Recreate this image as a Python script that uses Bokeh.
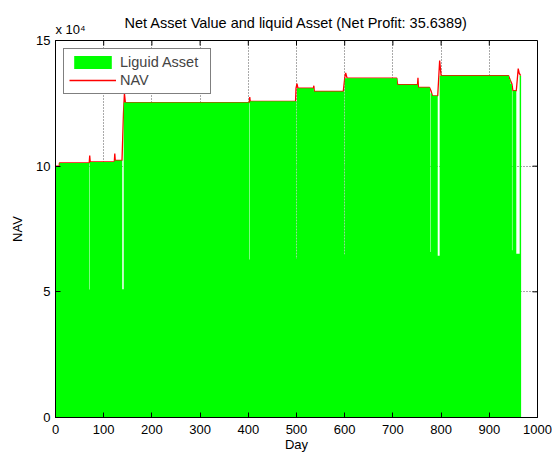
from bokeh.plotting import figure
from bokeh.models import (FixedTicker, Legend, LegendItem, ColumnDataSource, Range1d, Title)
from bokeh.embed import file_html
from bokeh.resources import INLINE

# ---- data (values in currency units) ----
nav_day = [0, 8, 8, 70, 71, 72, 122, 123, 124, 138, 141, 143, 145, 402, 403, 404,
           498, 499, 501, 503, 535, 536, 537, 597, 600, 602, 605, 708, 710, 751,
           752, 753, 776, 779, 782, 793, 797, 800, 940, 943, 947, 949, 956, 960,
           962, 965]
nav_value = [100000, 100000, 101300, 101300, 104200, 101700, 101700, 105000, 102300,
             102300, 121000, 129000, 125300, 125300, 127500, 125800, 125800, 131000,
             132800, 131000, 131000, 132000, 129700, 129700, 135000, 137100, 135000,
             135000, 132400, 132400, 135200, 131300, 131300, 130000, 128000, 128000,
             142000, 136000, 136000, 134500, 132700, 130000, 130000, 138800, 137000,
             136000]

liquid_day = [0, 8, 70, 71, 122, 138.5, 141.5, 402, 403, 500, 501, 536, 599, 600,
              709, 752, 777, 778, 781, 793, 797, 941, 944, 947, 948, 956, 963, 966]
liquid_value = [100000, 101300, 50900, 101700, 102300, 51000, 125300, 62900, 125800,
                63200, 131000, 129700, 64900, 135000, 132400, 131300, 65800, 129000,
                128000, 64400, 136000, 134500, 132700, 66500, 130000, 65200, 136000,
                136000]

x_ticks = [0, 100, 200, 300, 400, 500, 600, 700, 800, 900, 1000]
y_ticks = [0, 50000, 100000, 150000]
y_tick_labels = ["0", "5", "10", "15"]

title_text = "Net Asset Value and liquid Asset (Net Profit: 35.6389)"
exponent_text = "x 10\u2074"
x_label = "Day"
y_label = "NAV"
legend_labels = ["Liguid Asset", "NAV"]

FONT = "Liberation Sans"
FS = "13px"
FS_BIG = "14.5px"
X0, X1, Y0, Y1 = 0, 1000, 0, 150000
FRAME_W, FRAME_H = 482, 377
TICK = 5  # px

p = figure(width=552, height=455, x_range=Range1d(X0, X1), y_range=Range1d(Y0, Y1),
           output_backend="svg", toolbar_location=None, title=None,
           min_border_left=55, min_border_right=15, min_border_top=40, min_border_bottom=38)
p.background_fill_color = "white"
p.border_fill_color = "white"
p.outline_line_color = "black"
p.outline_line_width = 1

# axes
xa = p.xaxis[0]
xa.ticker = FixedTicker(ticks=x_ticks)
xa.axis_label = x_label
xa.axis_label_standoff = 0
ya = p.yaxis[0]
ya.ticker = FixedTicker(ticks=y_ticks)
ya.major_label_overrides = {t: s for t, s in zip(y_ticks, y_tick_labels)}
ya.axis_label = y_label
ya.axis_label_standoff = 8
for ax in (xa, ya):
    ax.axis_line_color = "black"
    ax.major_tick_line_color = "black"
    ax.major_tick_in = TICK
    ax.major_tick_out = 0
    ax.minor_tick_line_color = None
    ax.major_label_text_font = FONT
    ax.major_label_text_font_size = FS
    ax.major_label_text_color = "black"
    ax.axis_label_text_font = FONT
    ax.axis_label_text_font_size = FS
    ax.axis_label_text_font_style = "normal"
    ax.axis_label_text_color = "black"
xa.major_label_standoff = 7
ya.major_label_standoff = 5

# titles above the frame (outermost added last)
p.add_layout(Title(text=exponent_text, align="left", text_font=FONT, text_font_size=FS,
                   text_font_style="normal", text_color="black", standoff=8), "above")
main_title = Title(text=title_text, align="center", text_font=FONT, text_font_size=FS_BIG,
                   text_font_style="normal", text_color="black")
try:
    main_title.standoff = -30
except Exception:
    main_title.standoff = 0
p.add_layout(main_title, "above")

# grid
for g in (p.xgrid[0], p.ygrid[0]):
    g.grid_line_color = "#555555"
    g.grid_line_dash = "1 2"
    g.grid_line_width = 1
p.xgrid[0].ticker = FixedTicker(ticks=x_ticks)
p.ygrid[0].ticker = FixedTicker(ticks=y_ticks)

# glyphs: NAV line first, liquid-asset area drawn over it
nav_src = ColumnDataSource(dict(x=nav_day, y=nav_value))
line = p.line(x="x", y="y", source=nav_src, line_color="#ff0000", line_width=1.3)
liq_src = ColumnDataSource(dict(x=liquid_day, y=liquid_value, z=[0] * len(liquid_day)))
area = p.varea_step(x="x", y1="z", y2="y", source=liq_src, step_mode="after",
                    fill_color="#00ff00")

# inward tick marks on the top and right edges of the box
dy = TICK * (Y1 - Y0) / FRAME_H
dx = TICK * (X1 - X0) / FRAME_W
p.segment(x0=x_ticks, y0=[Y1] * len(x_ticks), x1=x_ticks, y1=[Y1 - dy] * len(x_ticks),
          line_color="black", line_width=1)
p.segment(x0=[X1] * len(y_ticks), y0=y_ticks, x1=[X1 - dx] * len(y_ticks), y1=y_ticks,
          line_color="black", line_width=1)

legend = Legend(items=[LegendItem(label=legend_labels[0], renderers=[area]),
                       LegendItem(label=legend_labels[1], renderers=[line])],
                location="top_left", margin=8, padding=5, spacing=2,
                glyph_width=47, glyph_height=16, label_height=16, label_width=85,
                label_standoff=4, label_text_font=FONT, label_text_font_size=FS_BIG,
                border_line_color="black", border_line_width=1,
                background_fill_color="white", background_fill_alpha=1)
p.add_layout(legend)

open("out.html", "w").write(file_html(p, INLINE))
